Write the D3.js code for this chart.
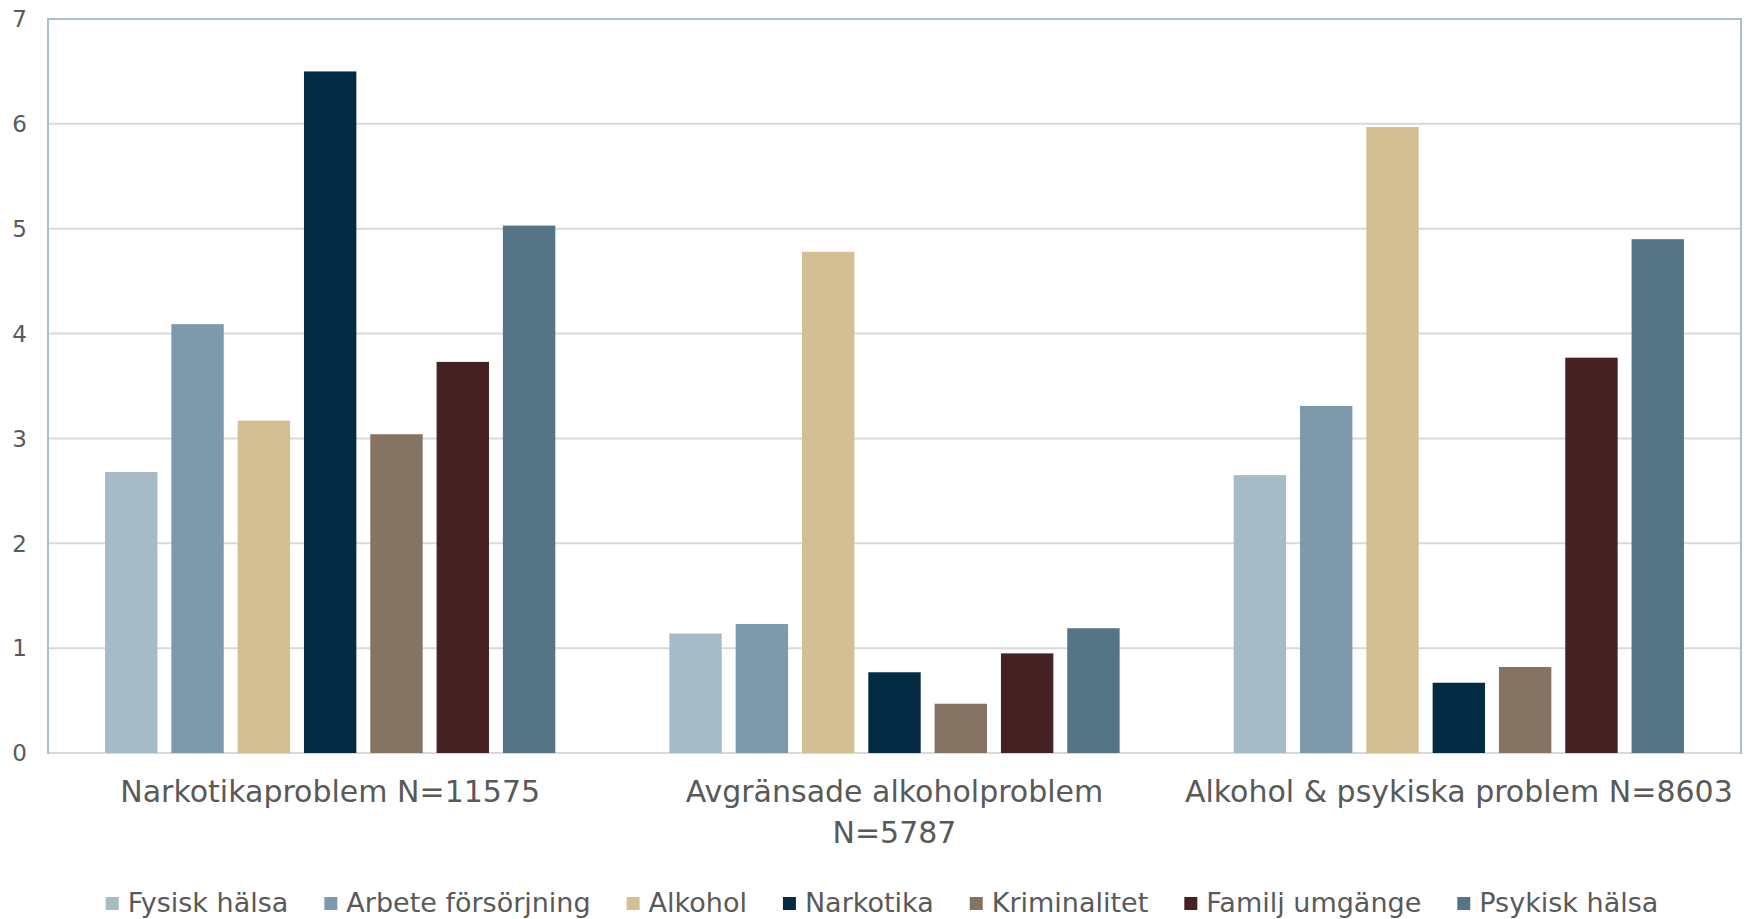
<!doctype html>
<html>
  <head>
    <meta charset="UTF-8"/>
    <title>Chart</title>
    <script src="https://cdnjs.cloudflare.com/ajax/libs/d3/7.8.5/d3.min.js"></script>
    <style>
      body {
          margin: 0;
          padding: 0;
          background: #fff;
      }
      text {
          font-family: "DejaVu Sans", sans-serif;
          fill: #595959;
      }
    </style>
  </head>
  <body>
    <svg id="chart" width="1752" height="919"></svg>
    <script>
      // groups (two-line label for the middle one, like in the original)
      const groups = [
        ["Narkotikaproblem N=11575"],
        ["Avgränsade alkoholproblem", "N=5787"],
        ["Alkohol & psykiska problem N=8603"]
      ];
      const series = ["Fysisk hälsa", "Arbete försörjning", "Alkohol", "Narkotika",
                      "Kriminalitet", "Familj umgänge", "Psykisk hälsa"];
      const colors = ["#a7bbc7", "#7d99ab", "#d4bf93", "#032c44",
                      "#857463", "#452124", "#557587"];

      // one row per group, one value per series
      const narkotika = [2.68, 4.09, 3.17, 6.50, 3.04, 3.73, 5.03];
      const alkohol   = [1.14, 1.23, 4.78, 0.77, 0.47, 0.95, 1.19];
      const alkPsyk   = [2.65, 3.31, 5.97, 0.67, 0.82, 3.77, 4.90];
      const values = [narkotika, alkohol, alkPsyk];

      const yTicks = [0, 1, 2, 3, 4, 5, 6, 7];

      const svg = d3.select("#chart");
      const m = {left: 48, right: 1741, top: 19, bottom: 753};

      const x0 = d3.scaleBand()
        .domain(d3.range(groups.length))
        .range([m.left, m.right]);
      const x1 = d3.scaleBand()
        .domain(series)
        .range([0, x0.bandwidth()])
        .paddingInner(0.21)
        .paddingOuter(0.86);
      const y = d3.scaleLinear()
        .domain([0, 7])
        .range([m.bottom, m.top]);

      // frame
      svg.append("rect")
        .attr("x", m.left).attr("y", m.top)
        .attr("width", m.right - m.left).attr("height", m.bottom - m.top)
        .attr("fill", "none")
        .attr("stroke", "#a9c1cb")
        .attr("stroke-width", 2);

      // grid
      svg.append("g")
        .selectAll("line")
        .data(yTicks.filter(d => d < 7))
        .join("line")
        .attr("x1", m.left + 1).attr("x2", m.right - 1)
        .attr("y1", d => y(d)).attr("y2", d => y(d))
        .attr("stroke", "#d9d9d9")
        .attr("stroke-width", 2);

      // y labels
      svg.append("g")
        .selectAll("text")
        .data(yTicks)
        .join("text")
        .attr("x", 19.5)
        .attr("y", d => y(d))
        .attr("dy", "0.36em")
        .attr("text-anchor", "middle")
        .style("font-size", "23px")
        .text(d => d);

      // bars
      const g = svg.append("g")
        .selectAll("g")
        .data(values)
        .join("g")
        .attr("transform", (d, i) => `translate(${x0(i)},0)`);

      g.selectAll("rect")
        .data(d => d.map((v, j) => ({s: series[j], v: v, c: colors[j]})))
        .join("rect")
        .attr("x", d => x1(d.s))
        .attr("width", x1.bandwidth())
        .attr("y", d => y(d.v))
        .attr("height", d => y(0) - y(d.v))
        .attr("fill", d => d.c);

      // category labels
      svg.append("g")
        .selectAll("text")
        .data(groups)
        .join("text")
        .attr("x", (d, i) => x0(i) + x0.bandwidth() / 2)
        .attr("y", 802)
        .attr("text-anchor", "middle")
        .style("font-size", "30px")
        .each(function (lines) {
          d3.select(this).selectAll("tspan")
            .data(lines)
            .join("tspan")
            .attr("x", d3.select(this).attr("x"))
            .attr("dy", (d, k) => k === 0 ? 0 : 41)
            .text(d => d);
        });

      // legend
      const leg = svg.append("g");
      const items = leg.selectAll("g")
        .data(series)
        .join("g");
      items.append("rect")
        .attr("width", 13).attr("height", 13)
        .attr("y", 897)
        .attr("fill", (d, i) => colors[i]);
      items.append("text")
        .attr("x", 22)
        .attr("y", 912)
        .style("font-size", "27px")
        .text(d => d);

      let pos = 0;
      const widths = [];
      items.each(function () {
        widths.push(this.querySelector("text").getComputedTextLength() + 22);
      });
      const gap = 36;
      const total = d3.sum(widths) + gap * (widths.length - 1);
      pos = 882 - total / 2;
      items.attr("transform", (d, i) => {
        const t = `translate(${pos},0)`;
        pos += widths[i] + gap;
        return t;
      });
    </script>
  </body>
</html>
